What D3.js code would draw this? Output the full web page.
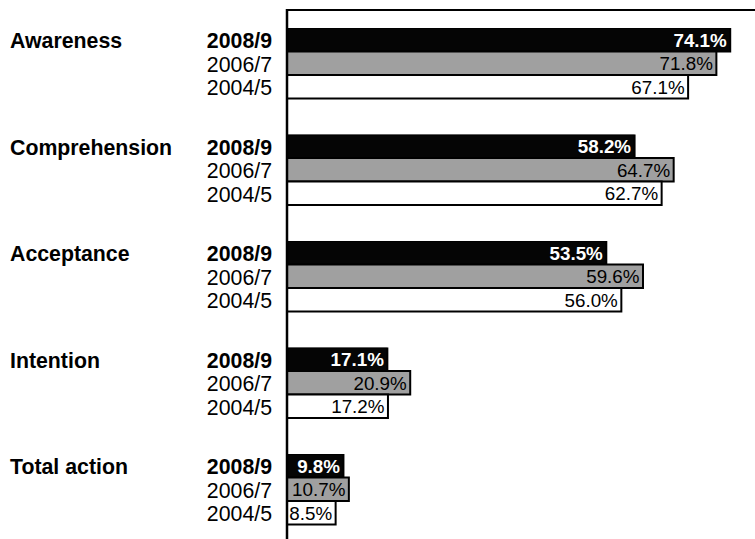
<!DOCTYPE html>
<html><head><meta charset="utf-8">
<script src="https://cdn.jsdelivr.net/npm/d3@7"></script>
<style>body{margin:0;background:#fff}svg{display:block}</style>
</head><body>
<script>
const stages = ["Awareness","Comprehension","Acceptance","Intention","Total action"];
const periods = ["2008/9","2006/7","2004/5"];
const v2008 = [74.1, 58.2, 53.5, 17.1, 9.8];
const v2006 = [71.8, 64.7, 59.6, 20.9, 10.7];
const v2004 = [67.1, 62.7, 56.0, 17.2, 8.5];
const series = [v2008, v2006, v2004];
const fills = ["#050505","#a0a0a0","#ffffff"];
const textFills = ["#ffffff","#000000","#000000"];
const weights = ["bold","normal","normal"];

const W = 755, H = 539;
const font = "'Liberation Sans', Arial, Helvetica, sans-serif";
const svg = d3.select("body").append("svg").attr("width", W).attr("height", H);

svg.append("defs").append("clipPath").attr("id","plotclip")
  .append("rect").attr("x", 287).attr("y", 0).attr("width", W).attr("height", H);

const x = d3.scaleLinear().domain([0, 100]).range([284.5, 886]);
const yGroup = d3.scaleBand().domain(stages).range([28, 28 + 106.5*5]);
const yBar = d3.scaleBand().domain(periods).range([0, 70.5]);

const g = svg.selectAll("g.grp").data(stages).join("g")
  .attr("class","grp").attr("transform", d => `translate(0,${yGroup(d)})`);

g.each(function(stage, i){
  const sel = d3.select(this);
  const bars = sel.append("g").attr("clip-path", "url(#plotclip)");
  periods.forEach((p, j) => {
    const v = series[j][i];
    bars.append("rect")
      .attr("x", x(0)).attr("y", yBar(p))
      .attr("width", x(v) - x(0)).attr("height", yBar.bandwidth())
      .attr("fill", fills[j]).attr("stroke", "#000").attr("stroke-width", 2);
  });
  periods.forEach((p, j) => {
    const v = series[j][i];
    sel.append("text")
      .attr("x", x(v) - 3.5).attr("y", yBar(p) + yBar.bandwidth()/2)
      .attr("dy", "0.36em").attr("text-anchor", "end")
      .attr("font-family", font).attr("font-size", 18.8)
      .attr("font-weight", weights[j]).attr("fill", textFills[j])
      .text(v.toFixed(1) + "%");
    sel.append("text")
      .attr("x", 272).attr("y", yBar(p) + yBar.bandwidth()/2 + 1)
      .attr("dy", "0.36em").attr("text-anchor", "end")
      .attr("font-family", font).attr("font-size", 21.3)
      .attr("font-weight", weights[j]).attr("fill", "#000")
      .text(p);
  });
  sel.append("text")
    .attr("x", 10).attr("y", yBar(periods[0]) + yBar.bandwidth()/2 + 1)
    .attr("dy", "0.36em")
    .attr("font-family", font).attr("font-size", 21.3).attr("font-weight", "bold")
    .text(stage);
});

// frame: top line and left axis
svg.append("line").attr("x1", 286).attr("x2", W).attr("y1", 10).attr("y2", 10)
  .attr("stroke", "#000").attr("stroke-width", 2);
svg.append("line").attr("x1", 287).attr("x2", 287).attr("y1", 9).attr("y2", H)
  .attr("stroke", "#000").attr("stroke-width", 2.5);
</script>
</body></html>
